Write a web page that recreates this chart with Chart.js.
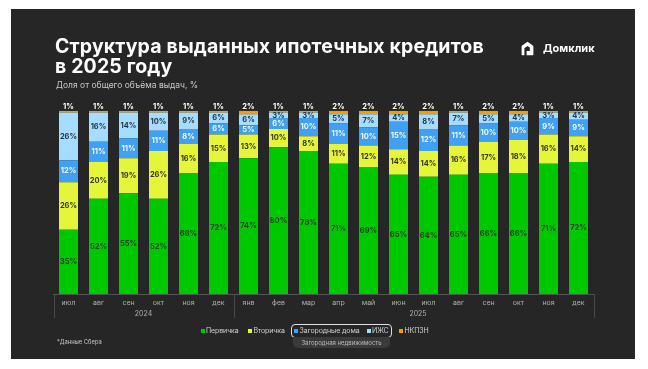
<!DOCTYPE html>
<html><head><meta charset="utf-8">
<script src="https://cdn.jsdelivr.net/npm/chart.js@4/dist/chart.umd.min.js"></script>
<style>
html,body{margin:0;padding:0;background:#fff;width:648px;height:369px;overflow:hidden;font-family:Inter,"Noto Sans",sans-serif;}
#panel{position:absolute;left:11px;top:9px;width:624px;height:350px;background:#262626;}
#wrap{position:absolute;left:0;top:0;width:648px;height:369px;}
.t{position:absolute;white-space:nowrap;}
#title{left:55px;top:36px;color:#fff;font-weight:700;font-size:19.5px;line-height:20px;letter-spacing:0.15px;}
#sub{left:56px;top:79px;color:#c8c8c8;font-size:8.5px;line-height:12px;}
#logo{left:521px;top:40px;color:#fff;font-weight:700;font-size:11px;line-height:16px;display:flex;align-items:center;gap:9px;}
#foot{left:57px;top:338px;color:#c8c8c8;font-size:5.8px;line-height:8px;}
.lg{position:absolute;top:325px;font-size:7px;line-height:11px;color:#d0d0d0;display:flex;align-items:center;white-space:nowrap;letter-spacing:-0.1px;}
.lg i{display:inline-block;width:4px;height:4px;margin-right:1.5px;}
#box{position:absolute;left:291px;top:324px;width:99px;height:12px;border:1px solid #e0e0e0;border-radius:4px;}
#tab{position:absolute;left:293px;top:337px;width:97px;height:11px;background:#3a3a3a;border-radius:0 0 5px 5px;color:#bbb;font-size:6px;line-height:11px;text-align:center;}
</style></head>
<body>
<div id="panel"></div>
<div id="wrap"><canvas id="c" width="648" height="369"></canvas></div>
<div class="t" id="title">Структура выданных ипотечных кредитов<br>в 2025 году</div>
<div class="t" id="sub">Доля от общего объёма выдач, %</div>
<div class="t" id="logo"><svg width="13" height="15" viewBox="0 0 13 15"><path d="M6.5 0.8 L12.2 4.8 Q12.4 5 12.4 5.4 V13.4 Q12.4 14.2 11.6 14.2 H5.6 V10 H8.8 V6.6 L6.5 5 L3.4 7.2 V14.2 H1.4 Q0.6 14.2 0.6 13.4 V5.4 Q0.6 5 0.8 4.8 Z" fill="#fff"/></svg><span>Домклик</span></div>
<div class="t" id="foot">*Данные Сбера</div>
<div id="box"></div>
<div id="tab">Загородная недвижимость</div>
<div class="lg" style="left:200.5px"><i style="background:#00c800"></i>Первичка</div>
<div class="lg" style="left:248px"><i style="background:#e4f53a"></i>Вторичка</div>
<div class="lg" style="left:294px"><i style="background:#3fa0f5"></i>Загородные дома</div>
<div class="lg" style="left:366.5px"><i style="background:#a6dcff"></i>ИЖС</div>
<div class="lg" style="left:399px"><i style="background:#f0a000"></i>НКПЗН</div>
<script>
const months = ['июл','авг','сен','окт','ноя','дек','янв','фев','мар','апр','май','июн','июл','авг','сен','окт','ноя','дек'];
const years = ['2024','2025'];
const primary   = [35,52,55,52,66,72,74,80,78,71,69,65,64,65,66,66,71,72];
const secondary = [26,20,19,26,16,15,13,10,8,11,12,14,14,16,17,18,16,14];
const countryHouses = [12,11,11,11,8,6,5,6,10,11,10,15,12,11,10,10,9,9];
const izhs      = [26,16,14,10,9,6,6,3,3,5,7,4,8,7,5,4,3,4];
const nkpzn     = [1,1,1,1,1,1,2,1,1,2,2,2,2,1,2,2,1,1];

const labelColors = ['#1b3d1b','#34381a','#f2f8ff','#23384a','#ffffff'];

const labelPlugin = {
  id:'segLabels',
  afterDatasetsDraw(chart){
    const ctx = chart.ctx;
    ctx.save();
    ctx.font = '700 7.5px Inter, "Noto Sans", sans-serif';
    ctx.textAlign = 'center';
    ctx.textBaseline = 'middle';
    chart.data.datasets.forEach((ds,i)=>{
      const meta = chart.getDatasetMeta(i);
      meta.data.forEach((el,j)=>{
        const v = ds.data[j];
        ctx.fillStyle = labelColors[i];
        let y = (el.y + el.base)/2;
        if (i === 4) y = el.y - 4;
        ctx.fillText(v + '%', el.x, y);
      });
    });
    ctx.restore();
  }
};

const sepPlugin = {
  id:'separators',
  afterDraw(chart){
    const ctx = chart.ctx, xs = chart.scales.x, bottom = chart.chartArea.bottom;
    ctx.save();
    ctx.strokeStyle = '#4a4a4a';
    ctx.lineWidth = 1;
    [-0.5, 5.5, 17.5].forEach(v=>{
      const x = Math.round(xs.getPixelForValue(v)) + 0.5;
      ctx.beginPath(); ctx.moveTo(x, bottom); ctx.lineTo(x, bottom + 24); ctx.stroke();
    });
    ctx.fillStyle = '#b0b0b0';
    ctx.font = '7px Inter, "Noto Sans", sans-serif';
    ctx.textAlign = 'center';
    ctx.textBaseline = 'middle';
    ctx.fillText(years[0], xs.getPixelForValue(2.5), bottom + 20);
    ctx.fillText(years[1], xs.getPixelForValue(11.65), bottom + 20);
    ctx.restore();
  }
};

const mk = (label, data, color) => ({label, data, backgroundColor: color, borderWidth: 0, barPercentage: 0.633, categoryPercentage: 1});

new Chart(document.getElementById('c'), {
  type:'bar',
  data:{
    labels: months,
    datasets:[
      mk('Первичка', primary, '#00c800'),
      mk('Вторичка', secondary, '#e4f53a'),
      mk('Загородные дома', countryHouses, '#3fa0f5'),
      mk('ИЖС', izhs, '#a6dcff'),
      mk('НКПЗН', nkpzn, '#f0a000')
    ]
  },
  options:{
    responsive:false,
    animation:false,
    layout:{padding:{left:53.5,right:54.5,top:110.7,bottom:0}},
    plugins:{legend:{display:false},tooltip:{enabled:false}},
    scales:{
      x:{stacked:true,
        afterFit(s){ s.height = 75; },
        grid:{display:false,drawTicks:false},
        border:{display:true,color:'#555555'},
        ticks:{color:'#b0b0b0',font:{size:7,family:'Inter, "Noto Sans", sans-serif'},padding:5,maxRotation:0,autoSkip:false}
      },
      y:{stacked:true,display:false,min:0,max:100}
    }
  },
  plugins:[labelPlugin, sepPlugin]
});
</script>
</body></html>
